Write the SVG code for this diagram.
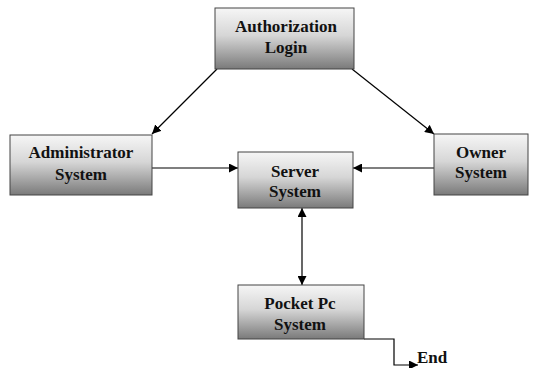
<svg xmlns="http://www.w3.org/2000/svg" width="537" height="368" viewBox="0 0 537 368">
  <style>
    .box { fill: url(#shade); stroke: #444; stroke-width: 1; }
    .lbl { font-family: "Liberation Serif", "Times New Roman", serif; font-weight: bold; font-size: 17px; fill: #111; text-anchor: middle; }
    .wire { fill: none; stroke: #000; stroke-width: 1.2; }
  </style>
  <defs>
    <linearGradient id="shade" x1="0" y1="0" x2="0" y2="1">
      <stop offset="0" stop-color="#f6f6f6"/>
      <stop offset="0.45" stop-color="#d6d6d6"/>
      <stop offset="1" stop-color="#7a7a7a"/>
    </linearGradient>
    <marker id="arrow" viewBox="0 0 10 10" refX="10" refY="5" markerWidth="9" markerHeight="9" markerUnits="userSpaceOnUse" orient="auto-start-reverse">
      <path d="M0,0 L10,5 L0,10 z" fill="#000"/>
    </marker>
  </defs>

  <g id="connectors">
    <line class="wire" x1="217" y1="69" x2="152" y2="134" marker-end="url(#arrow)"/>
    <line class="wire" x1="352" y1="69" x2="434" y2="134" marker-end="url(#arrow)"/>
    <line class="wire" x1="152" y1="168" x2="238" y2="168" marker-end="url(#arrow)"/>
    <line class="wire" x1="434" y1="168" x2="353" y2="168" marker-end="url(#arrow)"/>
    <line class="wire" x1="302" y1="208" x2="302" y2="285" marker-start="url(#arrow)" marker-end="url(#arrow)"/>
    <polyline class="wire" points="364,339 394,339 394,365 418,365" marker-end="url(#arrow)"/>
  </g>

  <g id="authorization-login">
    <rect class="box" x="215" y="8" width="139" height="61"/>
    <text class="lbl" x="286" y="32">Authorization</text>
    <text class="lbl" x="286" y="53">Login</text>
  </g>

  <g id="administrator-system">
    <rect class="box" x="10" y="135" width="142" height="60"/>
    <text class="lbl" x="81" y="158">Administrator</text>
    <text class="lbl" x="81" y="180">System</text>
  </g>

  <g id="server-system">
    <rect class="box" x="238" y="152" width="115" height="56"/>
    <text class="lbl" x="295" y="177">Server</text>
    <text class="lbl" x="295" y="197">System</text>
  </g>

  <g id="owner-system">
    <rect class="box" x="434" y="134" width="94" height="61"/>
    <text class="lbl" x="481" y="158">Owner</text>
    <text class="lbl" x="481" y="178">System</text>
  </g>

  <g id="pocket-pc-system">
    <rect class="box" x="238" y="285" width="126" height="54"/>
    <text class="lbl" x="300" y="309">Pocket Pc</text>
    <text class="lbl" x="300" y="330">System</text>
  </g>

  <g id="end">
    <text class="lbl" x="417" y="363" style="text-anchor:start">End</text>
  </g>
</svg>
